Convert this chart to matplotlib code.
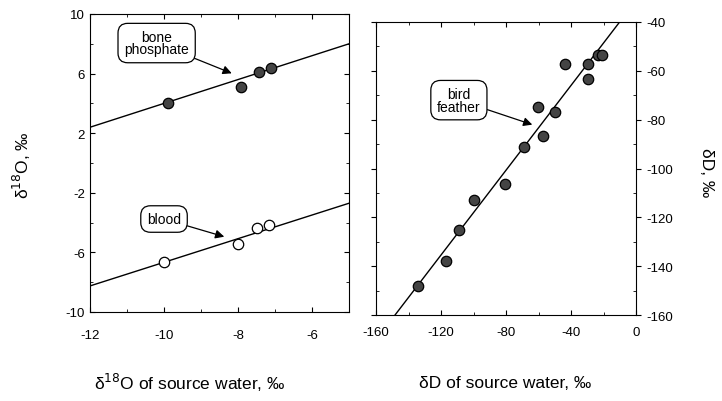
import matplotlib
matplotlib.use("Agg")
import matplotlib.pyplot as plt
from matplotlib.ticker import MultipleLocator

plt.rcParams['font.family'] = ['Liberation Sans', 'DejaVu Sans']
plt.rcParams['axes.unicode_minus'] = False

# left panel: d18O of source water vs d18O of tissue
bone_x = [-9.9, -7.92, -7.43, -7.1]
bone_y = [4.0, 5.1, 6.1, 6.4]
bone_fit_x = [-12, -5]
bone_fit_y = [2.4, 8.0]

blood_x = [-10.0, -8.0, -7.49, -7.16]
blood_y = [-6.65, -5.45, -4.36, -4.16]
blood_fit_x = [-12, -5]
blood_fit_y = [-8.25, -2.7]

# right panel: dD of source water vs dD of feather
feather_x = [-134, -117, -109, -99.5, -80.6, -68.9, -60.1, -57.4, -49.8,
             -43.7, -29.3, -29.3, -23.5, -21]
feather_y = [-148, -138, -125, -113, -106.4, -91.2, -74.8, -86.8, -76.9,
             -57.1, -57.4, -63.3, -53.5, -53.5]
feather_fit_x = [-148.3, -9.5]
feather_fit_y = [-160, -39.5]

fig = plt.figure(figsize=(7.22, 4.02), dpi=100)
ax1 = fig.add_axes([0.1247, 0.2214, 0.3587, 0.7413])
ax2 = fig.add_axes([0.5208, 0.2139, 0.3601, 0.7289])

dot = dict(linestyle='none', marker='o', markersize=7.5, markeredgecolor='black',
           markeredgewidth=0.9)
box = dict(boxstyle='round,pad=0.45,rounding_size=0.7', fc='white', ec='black', lw=0.9)
arrow = dict(arrowstyle='-|>', color='black', lw=0.9, mutation_scale=13, shrinkA=0)

ax1.plot(bone_fit_x, bone_fit_y, color='black', lw=1)
ax1.plot(blood_fit_x, blood_fit_y, color='black', lw=1)
ax1.plot(bone_x, bone_y, markerfacecolor='#444444', **dot)
ax1.plot(blood_x, blood_y, markerfacecolor='white', **dot)
ax1.set_xlim(-12, -5)
ax1.set_ylim(-10, 10)
ax1.set_xticks([-12, -10, -8, -6])
ax1.set_yticks([-10, -6, -2, 2, 6, 10])
ax1.xaxis.set_minor_locator(MultipleLocator(1))
ax1.yaxis.set_minor_locator(MultipleLocator(2))
ax1.tick_params(which='both', direction='in', top=True, right=True, labelsize=9.5)
ax1.tick_params(axis='x', pad=12)
ax1.annotate('bone\nphosphate', xy=(-8.1, 5.95), xytext=(-10.2, 8.05),
             fontsize=10, ha='center', va='center', linespacing=0.9,
             bbox=box, arrowprops=arrow)
ax1.annotate('blood', xy=(-8.3, -5.0), xytext=(-10.0, -3.76),
             fontsize=10, ha='center', va='center', bbox=box, arrowprops=arrow)

ax2.plot(feather_fit_x, feather_fit_y, color='black', lw=1)
ax2.plot(feather_x, feather_y, markerfacecolor='#444444', **dot)
ax2.set_xlim(-160, 0)
ax2.set_ylim(-160, -40)
ax2.set_xticks([-160, -120, -80, -40, 0])
ax2.set_yticks([-160, -140, -120, -100, -80, -60, -40])
ax2.xaxis.set_minor_locator(MultipleLocator(20))
ax2.yaxis.set_minor_locator(MultipleLocator(10))
ax2.yaxis.tick_right()
ax2.tick_params(which='both', direction='in', top=True, left=True, labelsize=9.5)
ax2.tick_params(axis='y', which='major', direction='out', pad=4)
ax2.tick_params(axis='x', pad=8)
ax2.annotate('bird\nfeather', xy=(-62.2, -82.4), xytext=(-109, -72),
             fontsize=10, ha='center', va='center', linespacing=0.9,
             bbox=box, arrowprops=arrow)

fig.text(0.263, 0.047, 'δ$^{18}$O of source water, ‰', ha='center', va='center',
         fontsize=12.5)
fig.text(0.70, 0.047, 'δD of source water, ‰', ha='center', va='center',
         fontsize=12.5)
fig.text(0.03, 0.59, 'δ$^{18}$O, ‰', ha='center', va='center', rotation=90,
         fontsize=12.5)
fig.text(0.978, 0.57, 'δD, ‰', ha='center', va='center', rotation=270,
         fontsize=12.5)

fig.savefig('out.png', dpi=100)
